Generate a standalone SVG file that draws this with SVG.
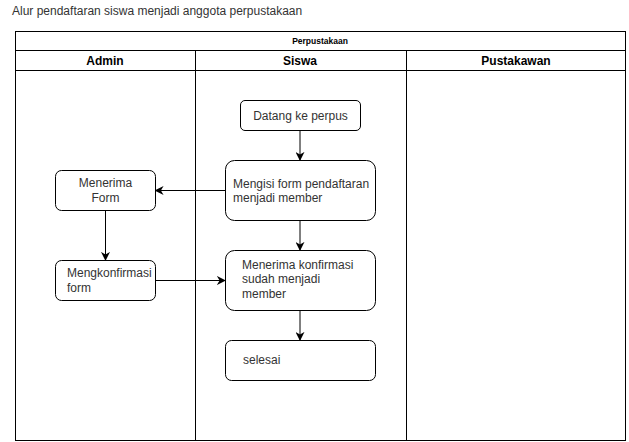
<svg xmlns="http://www.w3.org/2000/svg" width="629" height="442" viewBox="0 0 629 442">
  <defs>
    <style>
      .node { fill: #ffffff; stroke: #000000; stroke-width: 1; }
      .txt { font-family: "Liberation Sans", Arial, sans-serif; font-size: 12px; fill: #333333; }
      .hdr { font-family: "Liberation Sans", Arial, sans-serif; font-size: 12px; font-weight: bold; fill: #000000; text-anchor: middle; }
      .lane { fill: none; stroke: #000000; stroke-width: 1; }
      .edge { fill: none; stroke: #000000; stroke-width: 1; marker-end: url(#arrow); }
    </style>
    <marker id="arrow" viewBox="0 0 10 10" refX="9" refY="5" markerWidth="9" markerHeight="9" markerUnits="userSpaceOnUse" orient="auto">
      <path d="M0,0 L10,5 L0,10 L3,5 z" fill="#000000"/>
    </marker>
  </defs>
  <rect width="629" height="442" fill="#ffffff"/>
  <text class="txt" x="12" y="15">Alur pendaftaran siswa menjadi anggota perpustakaan</text>

  <g id="pool">
    <rect class="lane" x="15.5" y="31.5" width="610" height="409"/>
    <line class="lane" x1="15.5" y1="50.5" x2="625.5" y2="50.5"/>
    <line class="lane" x1="15.5" y1="70.5" x2="625.5" y2="70.5"/>
    <line class="lane" x1="195.5" y1="50.5" x2="195.5" y2="440.5"/>
    <line class="lane" x1="406.5" y1="50.5" x2="406.5" y2="440.5"/>
    <text class="hdr" x="320" y="44" style="font-size:8.5px">Perpustakaan</text>
    <text class="hdr" x="105" y="65">Admin</text>
    <text class="hdr" x="300" y="65">Siswa</text>
    <text class="hdr" x="516" y="65">Pustakawan</text>
  </g>

  <g id="edges">
    <line class="edge" x1="300" y1="130.5" x2="300" y2="160"/>
    <line class="edge" x1="225" y1="190.5" x2="155.5" y2="190.5"/>
    <line class="edge" x1="105.5" y1="210.5" x2="105.5" y2="260"/>
    <line class="edge" x1="155.5" y1="280.5" x2="225" y2="280.5"/>
    <line class="edge" x1="300" y1="220.5" x2="300" y2="250"/>
    <line class="edge" x1="300" y1="310.5" x2="300" y2="340"/>
  </g>

  <g id="datang">
    <rect class="node" x="240.5" y="100.5" width="120" height="30" rx="4.5"/>
    <text class="txt" x="300.5" y="119.5" text-anchor="middle">Datang ke perpus</text>
  </g>
  <g id="mengisi">
    <rect class="node" x="225.5" y="160.5" width="150" height="60" rx="9"/>
    <text class="txt" x="233" y="188">Mengisi form pendaftaran</text>
    <text class="txt" x="233" y="202">menjadi member</text>
  </g>
  <g id="menerima-form">
    <rect class="node" x="55.5" y="170.5" width="100" height="40" rx="6"/>
    <text class="txt" x="105.5" y="187" text-anchor="middle">Menerima</text>
    <text class="txt" x="105.5" y="201.5" text-anchor="middle">Form</text>
  </g>
  <g id="mengkonfirmasi">
    <rect class="node" x="55.5" y="260.5" width="100" height="40" rx="6"/>
    <text class="txt" x="67" y="277">Mengkonfirmasi</text>
    <text class="txt" x="67" y="291.5">form</text>
  </g>
  <g id="menerima-konfirmasi">
    <rect class="node" x="225.5" y="250.5" width="150" height="60" rx="9"/>
    <text class="txt" x="242" y="268.5">Menerima konfirmasi</text>
    <text class="txt" x="242" y="283">sudah menjadi</text>
    <text class="txt" x="242" y="297.5">member</text>
  </g>
  <g id="selesai">
    <rect class="node" x="225.5" y="340.5" width="150" height="40" rx="6"/>
    <text class="txt" x="243" y="364">selesai</text>
  </g>
</svg>
